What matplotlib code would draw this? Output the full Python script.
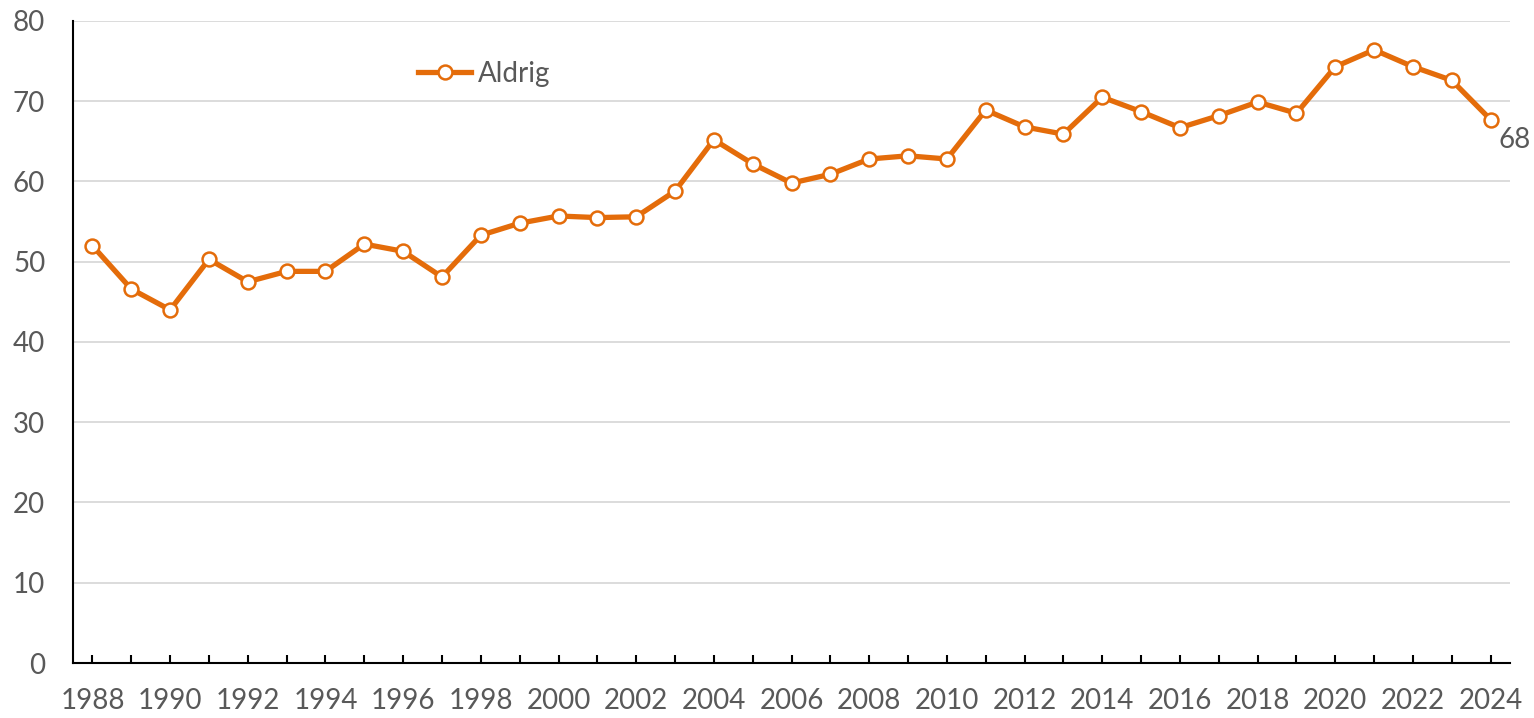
import matplotlib.pyplot as plt

years = list(range(1988, 2025))
aldrig = [52.0, 46.6, 44.0, 50.3, 47.5, 48.8, 48.8, 52.2, 51.3, 48.1,
          53.3, 54.8, 55.7, 55.5, 55.6, 58.8, 65.2, 62.2, 59.8, 60.9,
          62.8, 63.2, 62.8, 68.9, 66.8, 65.9, 70.5, 68.7, 66.7, 68.2,
          69.9, 68.5, 74.3, 76.4, 74.3, 72.6, 67.7]
y_ticks = [0, 10, 20, 30, 40, 50, 60, 70, 80]

orange = '#E46C0A'
grey_text = '#595959'
plt.rcParams['font.family'] = ['Lato', 'DejaVu Sans']

fig = plt.figure(figsize=(15.34, 7.18), dpi=100)
ax = fig.add_axes([0.0476, 0.0766, 0.9368, 0.8942])

ax.plot(years, aldrig, color=orange, lw=3.8, marker='o', ms=10,
        mfc='white', mec=orange, mew=1.8, label='Aldrig')
# etiket på sidste punkt
ax.text(years[-1] + 0.2, aldrig[-1] - 0.9, '%d' % round(aldrig[-1]),
        fontsize=20, color=grey_text, va='top', ha='left')

ax.set_xlim(1987.5, 2024.5)
ax.set_ylim(0, 80)
ax.set_yticks(y_ticks)
ax.set_xticks(years)
ax.set_xticklabels([str(y) if (y % 2 == 0) else '' for y in years])
ax.grid(axis='y', color='#D9D9D9', lw=1.3)
ax.set_axisbelow(True)

for s in ['top', 'right']:
    ax.spines[s].set_visible(False)
ax.spines['left'].set_linewidth(1.5)
ax.spines['bottom'].set_linewidth(1.5)
ax.tick_params(axis='both', direction='in', length=6, width=1.5,
               labelsize=20, labelcolor=grey_text)
ax.tick_params(axis='y', length=0, pad=20)
ax.tick_params(axis='x', pad=18)

ax.legend(loc='center left', bbox_to_anchor=(0.2305, 0.918), frameon=False,
          fontsize=20, labelcolor=grey_text, handlelength=1.9,
          handletextpad=0.25, borderpad=0)

plt.savefig('out.png', dpi=100)
